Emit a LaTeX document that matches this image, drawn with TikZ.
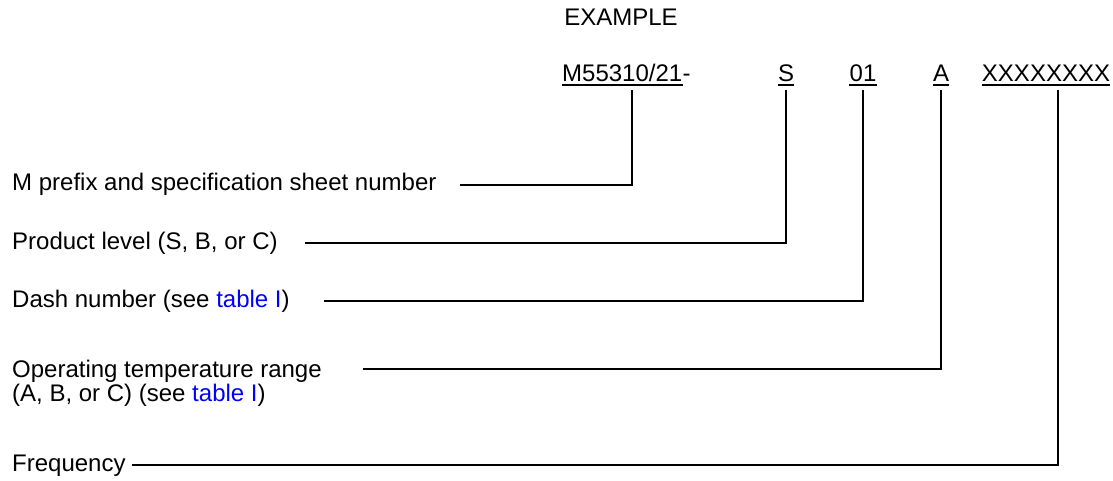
\documentclass[tikz,border=0pt]{standalone}
\usepackage{fontspec}
\setmainfont{Liberation Sans}
\begin{document}
\begin{tikzpicture}[x=1pt,y=-1pt,
  font=\fontsize{24}{24}\selectfont,
  lbl/.style={anchor=base west,inner sep=0pt},
  code/.style={anchor=base,inner sep=0pt},
  conn/.style={line width=1.1pt},
  ul/.style={line width=1.1pt}]
\useasboundingbox (0,0) rectangle (1113,481);
\node[code] (ex) at (621,26) {EXAMPLE};
\node[code,anchor=base west] (m) at (562,82) {M55310/21};
\node[code,anchor=base west] (dash) at (m.base east) {-};
\node[code] (s) at (786,82) {S};
\node[code] (d) at (863,82) {01};
\node[code] (a) at (941,82) {A};
\node[code] (x) at (1046,82) {XXXXXXXX};
\foreach \n in {m,s,d,a,x}
  \draw[ul] ([yshift=-3pt]\n.base west) -- ([yshift=-3pt]\n.base east);
\node[lbl] (l1) at (12,191) {M prefix and specification sheet number};
\node[lbl] (l2) at (12,249) {Product level (S, B, or C)};
\node[lbl] (l3) at (12,307) {Dash number (see \textcolor{blue}{table I})};
\node[lbl] (l4) at (12,377) {Operating temperature range};
\node[lbl] (l4b) at (12,401) {(A, B, or C) (see \textcolor{blue}{table I})};
\node[lbl] (l5) at (12,471) {Frequency};
\coordinate (top) at (0,90);
\coordinate (c1) at (460,185);
\coordinate (c2) at (305,243);
\coordinate (c3) at (324,301);
\coordinate (c4) at (363,369);
\coordinate (c5) at (132,465);
\coordinate (v1) at (632,90);
\coordinate (v5) at (1058,90);
\draw[conn] (c1) -| (v1);
\draw[conn] (c2) -| (s |- top);
\draw[conn] (c3) -| (d |- top);
\draw[conn] (c4) -| (a |- top);
\draw[conn] (c5) -| (v5);
\end{tikzpicture}
\end{document}
